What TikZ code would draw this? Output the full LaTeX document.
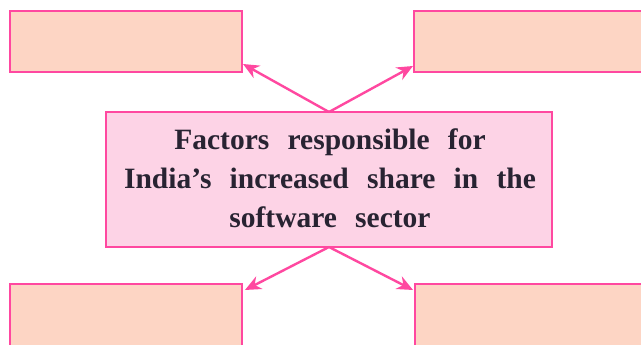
\documentclass[tikz,border=0pt]{standalone}
\usepackage{fontspec}
\setmainfont{Liberation Serif}
\usetikzlibrary{arrows.meta,calc}
\definecolor{pinkline}{RGB}{255,72,160}
\definecolor{peach}{RGB}{253,213,196}
\definecolor{pinkfill}{RGB}{253,211,230}
\definecolor{textcol}{RGB}{40,35,50}
\begin{document}
\begin{tikzpicture}[x=1pt,y=-1pt,
  outbox/.style={draw=pinkline, fill=peach, line width=2.4pt, rectangle, inner sep=0pt, outer sep=0pt, anchor=north west},
  centerbox/.style={draw=pinkline, fill=pinkfill, line width=2.4pt, rectangle, inner sep=0pt, outer sep=0pt, anchor=north west, minimum width=446pt, minimum height=135pt},
  conn/.style={draw=pinkline, line width=2.4pt, -{Stealth[length=16pt,width=14pt]}}
]
\useasboundingbox (0,0) rectangle (641,345);
\clip (0,0) rectangle (641,345);
\node[outbox, minimum width=232pt, minimum height=61pt] (tl) at (10,11) {};
\node[outbox, minimum width=240pt, minimum height=61pt] (tr) at (414,11) {};
\node[outbox, minimum width=232pt, minimum height=70pt] (bl) at (10,284) {};
\node[outbox, minimum width=240pt, minimum height=70pt] (br) at (415,284) {};
\node[centerbox] (c) at (106,112) {};
\node[text=textcol, font=\bfseries\fontsize{29.5}{39}\selectfont, align=center, inner sep=0pt] (t) at (330,178)
  {\spaceskip=0.62em\relax Factors responsible for\\ \spaceskip=0.62em\relax India’s increased share in the\\ \spaceskip=0.62em\relax software sector};
\draw[conn] (c.north) -- ([shift={(1,-8)}]tl.south east);
\draw[conn] (c.north) -- ([shift={(-1,-6)}]tr.south west);
\draw[conn] (c.south) -- ([shift={(3,6)}]bl.north east);
\draw[conn] (c.south) -- ([shift={(-2,6)}]br.north west);
\end{tikzpicture}
\end{document}
